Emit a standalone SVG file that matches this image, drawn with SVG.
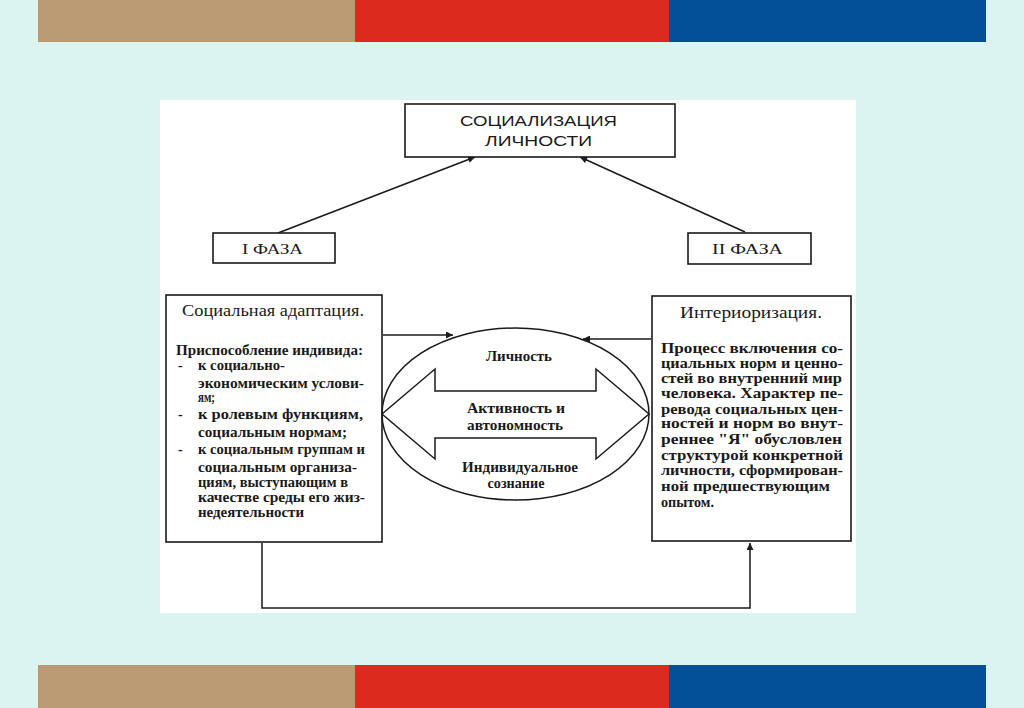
<svg xmlns="http://www.w3.org/2000/svg" width="1024" height="708" viewBox="0 0 1024 708">
<style>
.box{fill:#fff;stroke:#1a1a1a;stroke-width:1.6}
.ln{fill:none;stroke:#1a1a1a;stroke-width:1.5}
.t{font-family:"Liberation Serif","DejaVu Serif",serif;fill:#1a1a1a}
.b{font-weight:bold;font-size:14px}
.h{font-size:16.5px}
.cap{font-family:"Liberation Sans","DejaVu Sans",sans-serif;font-size:15.5px;fill:#1a1a1a}
.c{text-anchor:middle}
</style>
<defs>
<marker id="ar" viewBox="0 0 10 10" refX="10" refY="5" markerWidth="8" markerHeight="7" markerUnits="userSpaceOnUse" orient="auto">
<path d="M0,0 L10,5 L0,10 z" fill="#1a1a1a"/>
</marker>
</defs>
<rect width="1024" height="708" fill="#dcf4f0"/>
<g id="bars">
<rect x="38" y="0" width="317" height="42" fill="#b99a72"/>
<rect x="355" y="0" width="314" height="42" fill="#dc2a1f"/>
<rect x="669" y="0" width="317" height="42" fill="#034f98"/>
<rect x="38" y="665" width="317" height="43" fill="#b99a72"/>
<rect x="355" y="665" width="314" height="43" fill="#dc2a1f"/>
<rect x="669" y="665" width="317" height="43" fill="#034f98"/>
</g>
<rect x="160" y="100" width="696" height="513" fill="#fff"/>

<g id="connectors">
<path class="ln" d="M278,233 L475,157" marker-end="url(#ar)"/>
<path class="ln" d="M745,232 L580,157" marker-end="url(#ar)"/>
<path class="ln" d="M383,335 L453,335" marker-end="url(#ar)"/>
<path class="ln" d="M651,339 L583,339" marker-end="url(#ar)"/>
<path class="ln" d="M262,543 V608 H750 V543" marker-end="url(#ar)"/>
</g>

<g id="top">
<rect class="box" x="405" y="104" width="270" height="53"/>
<text class="cap" x="460" y="125.5" textLength="157" lengthAdjust="spacingAndGlyphs">СОЦИАЛИЗАЦИЯ</text>
<text class="cap" x="485" y="145.5" textLength="107" lengthAdjust="spacingAndGlyphs">ЛИЧНОСТИ</text>
</g>

<g id="phase1">
<rect class="box" x="213" y="233" width="122" height="30"/>
<text class="t" x="242" y="253.5" font-size="15.5" textLength="61" lengthAdjust="spacingAndGlyphs">I ФАЗА</text>
</g>

<g id="phase2">
<rect class="box" x="688" y="233" width="123" height="31"/>
<text class="t" x="712" y="253.5" font-size="15.5" textLength="71" lengthAdjust="spacingAndGlyphs">II ФАЗА</text>
</g>

<g id="adaptation">
<rect class="box" x="166" y="295" width="216" height="247"/>
<text class="t h" x="182" y="316" textLength="182" lengthAdjust="spacingAndGlyphs">Социальная адаптация.</text>
<g class="t b">
<text x="176" y="355" textLength="187" lengthAdjust="spacingAndGlyphs">Приспособление индивида:</text>
<text x="178" y="370">-</text>
<text x="198" y="370" textLength="87" lengthAdjust="spacingAndGlyphs">к социально-</text>
<text x="198" y="388" textLength="166" lengthAdjust="spacingAndGlyphs">экономическим услови-</text>
<text x="198" y="402" textLength="17" lengthAdjust="spacingAndGlyphs">ям;</text>
<text x="178" y="419">-</text>
<text x="198" y="419" textLength="165" lengthAdjust="spacingAndGlyphs">к ролевым функциям,</text>
<text x="198" y="437" textLength="149" lengthAdjust="spacingAndGlyphs">социальным нормам;</text>
<text x="178" y="454">-</text>
<text x="198" y="454" textLength="167" lengthAdjust="spacingAndGlyphs">к социальным группам и</text>
<text x="198" y="472" textLength="159" lengthAdjust="spacingAndGlyphs">социальным организа-</text>
<text x="198" y="487" textLength="150" lengthAdjust="spacingAndGlyphs">циям, выступающим в</text>
<text x="198" y="502" textLength="167" lengthAdjust="spacingAndGlyphs">качестве среды его жиз-</text>
<text x="198" y="517" textLength="106" lengthAdjust="spacingAndGlyphs">недеятельности</text>
</g>
</g>

<g id="interiorization">
<rect class="box" x="652" y="296" width="199" height="245"/>
<text class="t h" x="680" y="318" textLength="142" lengthAdjust="spacingAndGlyphs">Интериоризация.</text>
<g class="t b">
<text x="661" y="353" textLength="182" lengthAdjust="spacingAndGlyphs">Процесс включения со-</text>
<text x="661" y="368" textLength="182" lengthAdjust="spacingAndGlyphs">циальных норм и ценно-</text>
<text x="661" y="383" textLength="181" lengthAdjust="spacingAndGlyphs">стей во внутренний мир</text>
<text x="661" y="398" textLength="182" lengthAdjust="spacingAndGlyphs">человека. Характер пе-</text>
<text x="661" y="414" textLength="182" lengthAdjust="spacingAndGlyphs">ревода социальных цен-</text>
<text x="661" y="428" textLength="182" lengthAdjust="spacingAndGlyphs">ностей и норм во внут-</text>
<text x="661" y="444" textLength="181" lengthAdjust="spacingAndGlyphs">реннее "Я" обусловлен</text>
<text x="661" y="460" textLength="182" lengthAdjust="spacingAndGlyphs">структурой конкретной</text>
<text x="661" y="475" textLength="182" lengthAdjust="spacingAndGlyphs">личности, сформирован-</text>
<text x="661" y="491" textLength="169" lengthAdjust="spacingAndGlyphs">ной предшествующим</text>
<text x="661" y="507" textLength="53" lengthAdjust="spacingAndGlyphs">опытом.</text>
</g>
</g>

<g id="personality">
<ellipse class="ln" cx="515.5" cy="414" rx="133.5" ry="86"/>
<path class="ln" fill="#fff" d="M382,414 L435,369 V391 H596 V369 L649,414 L596,459 V438 H435 V459 Z"/>
<g class="t b c">
<text x="519" y="361" textLength="66" lengthAdjust="spacingAndGlyphs">Личность</text>
<text x="516" y="413" textLength="98" lengthAdjust="spacingAndGlyphs">Активность и</text>
<text x="515" y="430" textLength="96" lengthAdjust="spacingAndGlyphs">автономность</text>
<text x="520" y="472" textLength="116" lengthAdjust="spacingAndGlyphs">Индивидуальное</text>
<text x="516" y="488" textLength="57" lengthAdjust="spacingAndGlyphs">сознание</text>
</g>
</g>
</svg>
